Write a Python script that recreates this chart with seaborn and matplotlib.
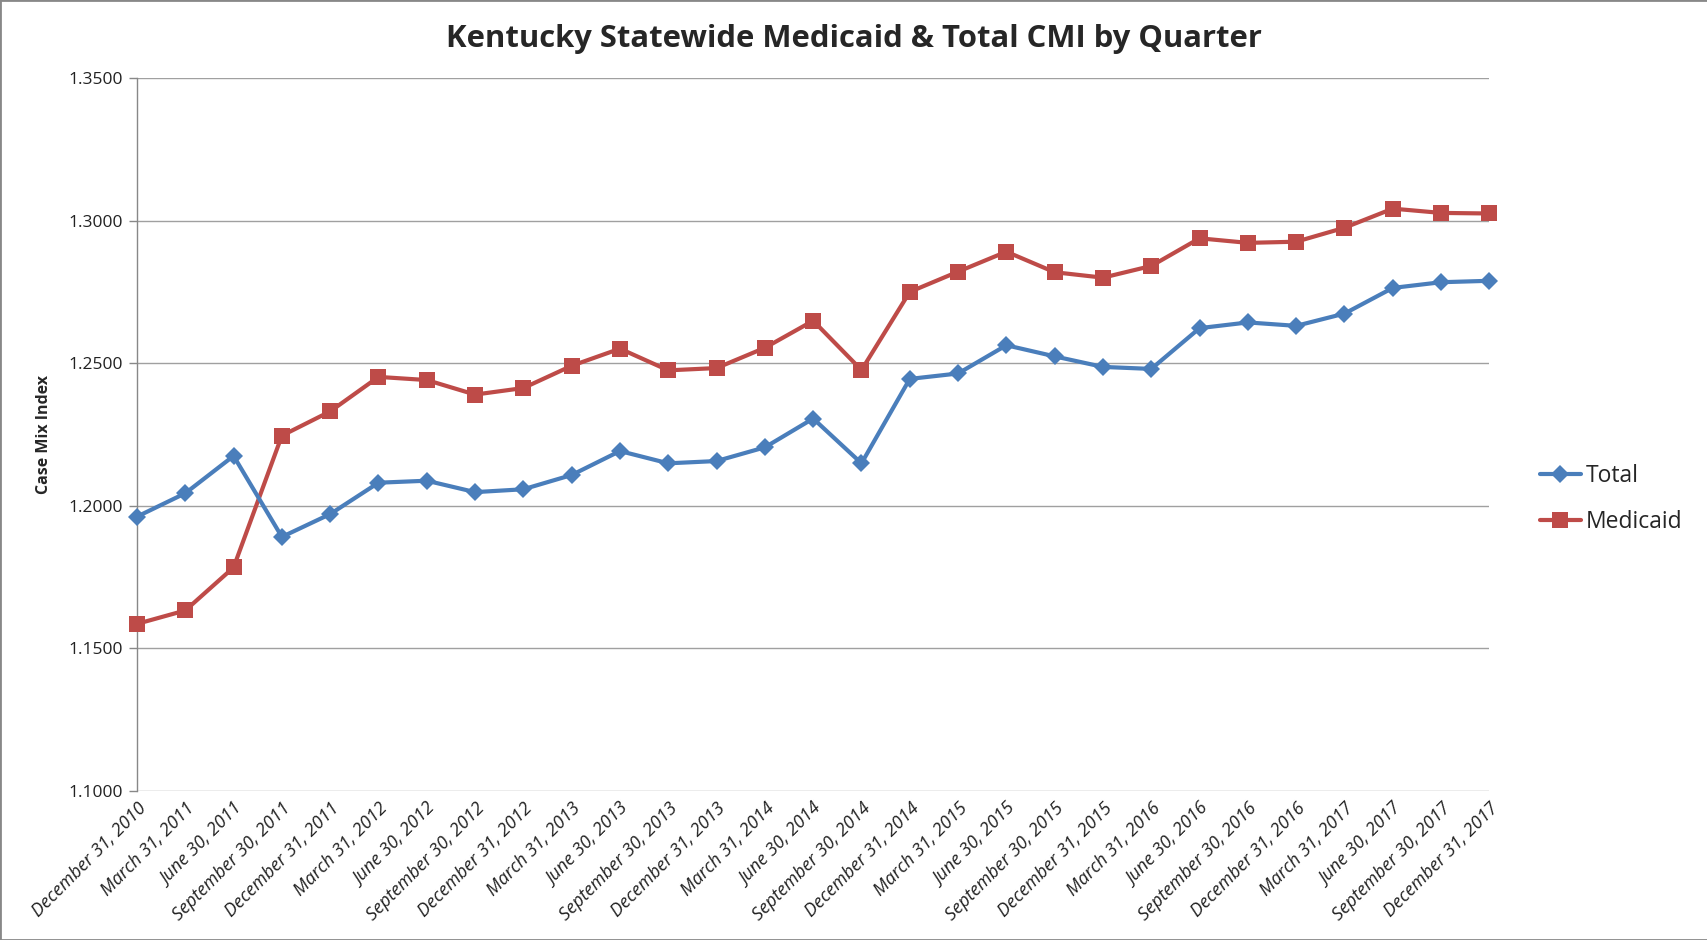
import matplotlib
matplotlib.use("Agg")
import matplotlib.pyplot as plt
import seaborn as sns
import pandas as pd
import numpy as np
from matplotlib.patches import Rectangle

quarters = [
    "December 31, 2010", "March 31, 2011", "June 30, 2011", "September 30, 2011",
    "December 31, 2011", "March 31, 2012", "June 30, 2012", "September 30, 2012",
    "December 31, 2012", "March 31, 2013", "June 30, 2013", "September 30, 2013",
    "December 31, 2013", "March 31, 2014", "June 30, 2014", "September 30, 2014",
    "December 31, 2014", "March 31, 2015", "June 30, 2015", "September 30, 2015",
    "December 31, 2015", "March 31, 2016", "June 30, 2016", "September 30, 2016",
    "December 31, 2016", "March 31, 2017", "June 30, 2017", "September 30, 2017",
    "December 31, 2017",
]
total = [1.1962, 1.2044, 1.2175, 1.1891, 1.1971, 1.2081, 1.2088, 1.2048, 1.2058,
         1.2108, 1.2192, 1.2149, 1.2157, 1.2205, 1.2306, 1.2149, 1.2445, 1.2464,
         1.2563, 1.2524, 1.2487, 1.2480, 1.2623, 1.2643, 1.2631, 1.2674, 1.2764,
         1.2784, 1.2789]
medicaid = [1.1586, 1.1633, 1.1784, 1.2246, 1.2331, 1.2452, 1.2441, 1.2390, 1.2413,
            1.2491, 1.2551, 1.2475, 1.2483, 1.2554, 1.2649, 1.2476, 1.2750, 1.2821,
            1.2891, 1.2819, 1.2800, 1.2841, 1.2938, 1.2922, 1.2926, 1.2975, 1.3042,
            1.3027, 1.3025]
yticks = [1.10, 1.15, 1.20, 1.25, 1.30, 1.35]

sns.set_style("white")
plt.rcParams['font.family'] = ['Open Sans', 'DejaVu Sans']

fig = plt.figure(figsize=(17.08, 9.40), dpi=100)
ax = fig.add_axes([0.0802, 0.1585, 0.872 - 0.0802, 0.917 - 0.1585])

pos = np.arange(len(quarters))
df = pd.DataFrame({"pos": np.concatenate([pos, pos]),
                   "value": total + medicaid,
                   "series": ["Total"] * len(pos) + ["Medicaid"] * len(pos)})

palette = {"Total": "#4A7EBB", "Medicaid": "#BE4B48"}
sns.lineplot(data=df[df.series == "Total"], x="pos", y="value", ax=ax,
             color=palette["Total"], marker="D", markersize=9, markeredgewidth=0,
             linewidth=3, label="Total", clip_on=False, zorder=4)
sns.lineplot(data=df[df.series == "Medicaid"], x="pos", y="value", ax=ax,
             color=palette["Medicaid"], marker="s", markersize=12, markeredgewidth=0,
             linewidth=3, label="Medicaid", clip_on=False, zorder=3)

ax.set_xlim(0, len(quarters) - 1)
ax.set_ylim(1.10, 1.35)
ax.set_yticks(yticks)
ax.set_yticklabels([f"{v:.4f}" for v in yticks], fontsize=12.5, color="#222222")
ax.set_xticks(pos)
ax.set_xticklabels(quarters, rotation=45, ha="right", rotation_mode="anchor",
                   fontsize=13, style="italic", color="#222222")
ax.tick_params(axis="x", length=0, pad=6)
ax.tick_params(axis="y", length=6, width=1, color="#888888", direction="out", pad=4, left=True)

ax.grid(axis="y", color="#A0A0A0", linewidth=1)
ax.set_axisbelow(True)
for s in ["top", "right", "bottom"]:
    ax.spines[s].set_visible(False)
ax.spines["left"].set_color("#888888")
ax.spines["left"].set_linewidth(1)

ax.set_xlabel("")
ax.set_ylabel("Case Mix Index", fontsize=11.5, fontweight="bold", labelpad=12)

fig.text(0.5, 0.958, "Kentucky Statewide Medicaid & Total CMI by Quarter",
         ha="center", va="center", fontsize=22.3, fontweight="bold")

leg = ax.legend(loc="center left", bbox_to_anchor=(1.022, 0.41), frameon=False,
                fontsize=16.5, handlelength=1.8, handletextpad=0.2, labelspacing=0.95)

fig.patches.append(Rectangle((0, 0), 1, 1, transform=fig.transFigure, fill=False,
                             edgecolor="#888888", linewidth=2))

fig.savefig("out.png", dpi=100)
